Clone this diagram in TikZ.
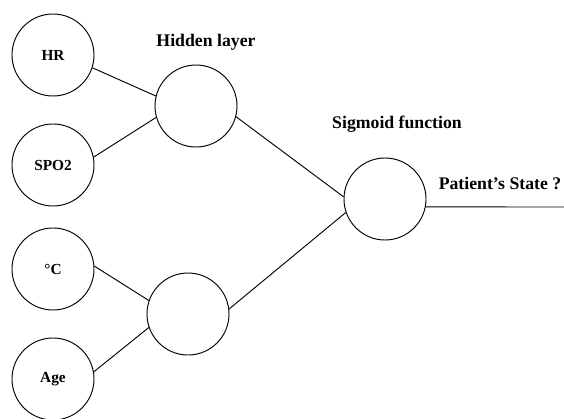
\documentclass[tikz,border=0pt]{standalone}
\usepackage{fontspec}
\setmainfont{Liberation Serif}
\usepackage{tikz}

\begin{document}
\begin{tikzpicture}[x=0.75pt,y=-0.75pt, line width=0.7pt, neuron/.style={circle, draw, minimum size=61.5pt, inner sep=0pt, font=\fontsize{11.5}{13}\selectfont\bfseries}, caption/.style={font=\fontsize{13.3}{15}\selectfont\bfseries}]
                        \useasboundingbox (0,0) rectangle (564,418);

                        \node[neuron] (hr) at (53,55) {HR};
                        \node[neuron] (spo) at (53,165) {SPO2};
                        \node[neuron] (temp) at (53,269) {°C};
                        \node[neuron] (age) at (53,379) {Age};

                        \node[neuron] (hidA) at (196,106) {};
                        \node[neuron] (hidB) at (188,314) {};
                        \node[neuron] (sig) at (385,199) {};

                        \node[caption] (hidlabel) at (206,42) {Hidden layer};
                        \node[caption] (siglabel) at (397,124) {Sigmoid function};
                        \node[caption] (outlabel) at (500,183) {Patient’s State ?};

                        \coordinate (out) at (564,207);

                        \draw (hr.-18) -- (hidA.166);
                        \draw (spo.11) -- (hidA.-164);
                        \draw (temp.4) -- (hidB.161);
                        \draw (age.10) -- (hidB.-161);
                        \draw (hidA.-15) -- (sig.177);
                        \draw (hidB.7) -- (sig.-161);
                        \draw (sig.-11) -- (out);
                    \end{tikzpicture}
\end{document}
